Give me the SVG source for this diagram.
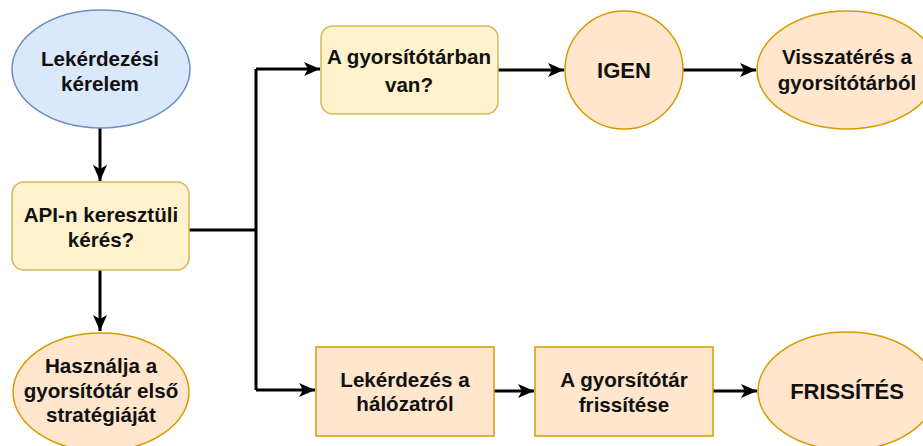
<svg xmlns="http://www.w3.org/2000/svg" width="923" height="446" viewBox="0 0 923 446">
<style>
text{font-family:"Liberation Sans",Arial,sans-serif;font-weight:bold;font-size:20.6px;fill:#111;text-anchor:middle}
.big{font-size:22px}
.blue{fill:#dae8fc;stroke:#6c8ebf;stroke-width:1.5}
.yel{fill:#fff2cc;stroke:#d6b656;stroke-width:1.5}
.org{fill:#ffe6cc;stroke:#d79b00;stroke-width:1.5}
.ln{fill:none;stroke:#000;stroke-width:3}
</style>
<defs>
<marker id="ah" markerUnits="userSpaceOnUse" markerWidth="18" markerHeight="16" refX="16" refY="8" orient="auto">
<path d="M0,1 L16,8 L0,15 L4,8 z" fill="#000"/>
</marker>
</defs>
<rect width="923" height="446" fill="#fff"/>
<g id="connectors">
<path class="ln" d="M100,128 V181" marker-end="url(#ah)"/>
<path class="ln" d="M100,270 V331" marker-end="url(#ah)"/>
<path class="ln" d="M189,230 H256"/>
<path class="ln" d="M256,69 V390"/>
<path class="ln" d="M256,69 H320" marker-end="url(#ah)"/>
<path class="ln" d="M256,390 H315" marker-end="url(#ah)"/>
<path class="ln" d="M498,70 H564" marker-end="url(#ah)"/>
<path class="ln" d="M683,70 H756" marker-end="url(#ah)"/>
<path class="ln" d="M494,391 H534" marker-end="url(#ah)"/>
<path class="ln" d="M713,391 H757" marker-end="url(#ah)"/>
</g>
<g id="n1">
<ellipse class="blue" cx="101" cy="69" rx="89" ry="59"/>
<text x="100" y="66">Lekérdezési</text>
<text x="100" y="91">kérelem</text>
</g>
<g id="n2">
<rect class="yel" x="12" y="182" width="177" height="88" rx="12"/>
<text x="101" y="222">API-n keresztüli</text>
<text x="101" y="247">kérés?</text>
</g>
<g id="n3">
<ellipse class="org" cx="101" cy="392" rx="88" ry="59"/>
<text x="101" y="373">Használja a</text>
<text x="101" y="398">gyorsítótár első</text>
<text x="101" y="422">stratégiáját</text>
</g>
<g id="n4">
<rect class="yel" x="321" y="26" width="177" height="88" rx="12"/>
<text x="409" y="64">A gyorsítótárban</text>
<text x="409" y="92">van?</text>
</g>
<g id="n5">
<circle class="org" cx="624" cy="70" r="59"/>
<text class="big" x="624" y="78">IGEN</text>
</g>
<g id="n6">
<ellipse class="org" cx="847" cy="70" rx="90" ry="59"/>
<text x="847" y="64">Visszatérés a</text>
<text x="847" y="90">gyorsítótárból</text>
</g>
<g id="n7">
<rect class="org" x="316" y="347" width="178" height="89"/>
<text x="405" y="387">Lekérdezés a</text>
<text x="405" y="411">hálózatról</text>
</g>
<g id="n8">
<rect class="org" x="535" y="347" width="178" height="89"/>
<text x="624" y="387">A gyorsítótár</text>
<text x="624" y="412">frissítése</text>
</g>
<g id="n9">
<ellipse class="org" cx="847" cy="391" rx="89" ry="59"/>
<text class="big" x="847" y="399">FRISSÍTÉS</text>
</g>
</svg>
